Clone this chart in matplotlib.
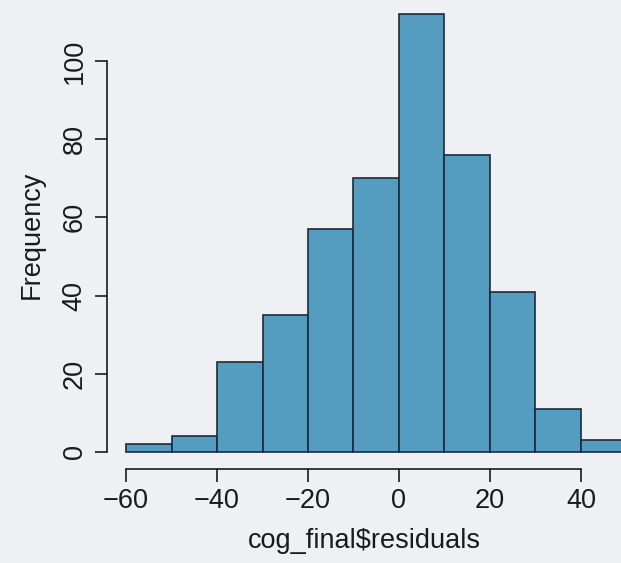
import matplotlib.pyplot as plt
import numpy as np

# histogram of residuals (bin edges and counts)
bin_edges = [-60, -50, -40, -30, -20, -10, 0, 10, 20, 30, 40, 50]
counts = [2, 4, 23, 35, 57, 70, 112, 76, 41, 11, 3]
x_ticks = [-60, -40, -20, 0, 20, 40]
y_ticks = [0, 20, 40, 60, 80, 100]

plt.rcParams['font.family'] = ['Liberation Sans', 'DejaVu Sans']

fig = plt.figure(figsize=(6.21, 5.63), dpi=100)
fig.patch.set_facecolor('#eef0f3')
ax = fig.add_axes([107/621, 94/563, 1 - 107/621, 1 - 94/563])
ax.set_facecolor('none')

edges = np.array(bin_edges)
ax.bar(edges[:-1], counts, width=np.diff(edges), align='edge',
       color='#549cc0', edgecolor='#1c2a38', linewidth=1.2)

ax.set_xlim(-64.18, 48.8)
ax.set_ylim(-4.35, 115.6)

for s in ['top', 'right']:
    ax.spines[s].set_visible(False)
ax.spines['left'].set_bounds(0, 100)
ax.spines['bottom'].set_bounds(-60, 40)
for s in ['left', 'bottom']:
    ax.spines[s].set_color('#1a1a1a')
    ax.spines[s].set_linewidth(1.2)

ax.set_xticks(x_ticks)
ax.set_xticklabels(['\u2212' + str(-v) if v < 0 else str(v) for v in x_ticks])
ax.set_yticks(y_ticks)
ax.set_yticklabels([str(v) for v in y_ticks], rotation=90, va='center')
ax.tick_params(axis='both', length=9, width=1.2, color='#1a1a1a',
               labelsize=19.5, labelcolor='#1a1a1a', pad=5)

ax.set_xlabel('cog_final$residuals', fontsize=19.5, color='#1a1a1a', labelpad=10)
ax.set_ylabel('Frequency', fontsize=19.5, color='#1a1a1a', labelpad=12)

fig.savefig('out.png', dpi=100, facecolor=fig.get_facecolor())
